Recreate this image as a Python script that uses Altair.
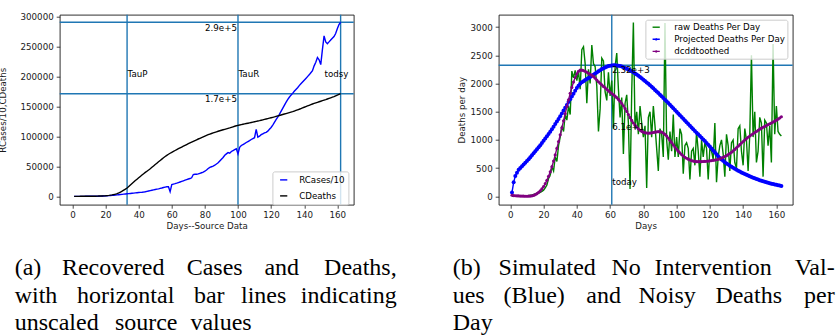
import altair as alt
import pandas as pd

# ---------------- data ----------------
days_a = list(range(1, 163))
recovered_div10 = [
    0, 0, 0, 0, 0, 0, 0, 100, 100, 100,
    100, 100, 200, 200, 300, 300, 400, 500, 600, 800,
    1000, 1200, 1400, 1600, 1900, 2200, 2500, 2800, 3100, 3400,
    3700, 4000, 4300, 4600, 4900, 5200, 5500, 5800, 6100, 6400,
    6600, 6900, 7300, 7800, 8400, 9000, 9600, 10200, 10800, 11400,
    12000, 12600, 13300, 14000, 14800, 15500, 16000, 16200, 8000, 19800,
    20500, 21200, 22000, 23000, 24000, 25000, 26000, 27000, 28000, 29000,
    29800, 31000, 36500, 37000, 37000, 37500, 38500, 39500, 40500, 42000,
    44000, 46500, 48500, 49500, 50500, 52000, 54000, 56000, 59000, 62000,
    65000, 68500, 71000, 73000, 72000, 75000, 76500, 78000, 79500, 71000,
    82000, 85000, 86500, 88000, 90000, 91500, 93000, 95000, 96500, 98000,
    112000, 99000, 100500, 103000, 104500, 106000, 107000, 109000, 112000, 115000,
    119000, 123500, 128000, 132500, 137000, 142000, 147000, 152000, 157000, 161500,
    165500, 169000, 172000, 175500, 178500, 181500, 185000, 188000, 191000, 194000,
    197000, 200000, 203000, 206500, 210000, 218000, 224000, 232000, 228000, 220000,
    245000, 268000, 258000, 255000, 258000, 261000, 264000, 267000, 272000, 280000,
    287000, 290800,
]
cum_deaths = [
    0, 0, 0, 0, 100, 100, 100, 100, 100, 200,
    200, 200, 300, 300, 400, 500, 600, 700, 800, 1000,
    1300, 1600, 2000, 2500, 3100, 3800, 4700, 5800, 7100, 8600,
    10300, 12000, 14000, 16500, 19000, 21500, 24000, 26400, 28700, 31000,
    33300, 35600, 37900, 40000, 42000, 44000, 46200, 48500, 50800, 53100,
    55400, 57700, 60000, 62200, 64400, 66500, 68500, 70300, 72000, 73600,
    75100, 76600, 78100, 79600, 81000, 82400, 83800, 85200, 86600, 88000,
    89300, 90600, 91900, 93200, 94500, 95800, 97000, 98200, 99400, 100600,
    101800, 103000, 104000, 105000, 106000, 106900, 107800, 108700, 109600, 110400,
    111200, 112000, 112800, 113600, 114400, 115300, 116200, 117100, 117900, 118600,
    119200, 119800, 120400, 121000, 121600, 122200, 122800, 123400, 124000, 124600,
    125200, 125800, 126400, 127100, 127800, 128500, 129200, 129900, 130600, 131300,
    132000, 132700, 133500, 134300, 135100, 135900, 136700, 137500, 138300, 139100,
    139900, 140700, 141500, 142500, 143500, 144500, 145500, 146600, 147700, 148800,
    149900, 151000, 152100, 153200, 154300, 155300, 156200, 157100, 158000, 158900,
    159800, 160700, 161600, 162600, 163600, 164600, 165600, 166700, 167900, 169100,
    170300, 171500,
]

days_b = list(range(1, 164))
raw_deaths_per_day = [
    0, 0, 2, 3, 5, 4, 6, 8, 10, 12,
    15, 20, 25, 35, 45, 55, 60, 70, 90, 110,
    150, 200, 320, 380, 520, 450, 700, 620, 900, 1050,
    1250, 1150, 1450, 1350, 1600, 1450, 2220, 2100, 2230, 2050,
    2220, 1900, 2600, 2650, 2350, 1650, 2250, 2000, 2680, 2350,
    2300, 1950, 1150, 1550, 2450, 2400, 1850, 1700, 2200, 1780,
    2050, 1200, 2300, 2540, 1900, 1400, 1750, 750, 1650, 1800,
    1300, 130, 1850, 3080, 1200, 1500, 1100, 1600, 1300, 1050,
    1250, 150, 1400, 1500, 1050, 1600, 1250, 850, 450, 1200,
    1100, 700, 3070, 1000, 650, 1150, 800, 1450, 700, 1050,
    700, 1200, 1100, 400, 900, 950, 850, 300, 800, 850,
    550, 1150, 800, 350, 1000, 700, 950, 850, 300, 850,
    800, 650, 1300, 250, 700, 900, 1000, 750, 350, 1100,
    900, 450, 950, 1000, 600, 500, 1200, 1250, 800, 550,
    1200, 1000, 450, 1100, 2500, 1050, 1500, 600, 800, 1400,
    1300, 350, 1350, 1300, 900, 1250, 600, 2700, 1100, 1600,
    1150, 1100, 1070,
]
projected_deaths_per_day = [
    70, 250, 360, 420, 470, 505, 535, 565, 595, 625,
    660, 695, 730, 765, 800, 835, 870, 905, 945, 985,
    1025, 1065, 1105, 1145, 1190, 1235, 1280, 1325, 1370, 1420,
    1470, 1520, 1570, 1620, 1670, 1720, 1770, 1820, 1870, 1920,
    1960, 1995, 2020, 2040, 2060, 2080, 2095, 2115, 2135, 2155,
    2175, 2195, 2215, 2235, 2255, 2270, 2285, 2298, 2308, 2315,
    2320, 2322, 2322, 2320, 2316, 2310, 2300, 2288, 2275, 2262,
    2248, 2232, 2215, 2197, 2178, 2158, 2137, 2115, 2092, 2068,
    2044, 2019, 1994, 1968, 1941, 1914, 1886, 1858, 1830, 1801,
    1772, 1743, 1713, 1683, 1653, 1623, 1592, 1561, 1530, 1499,
    1468, 1437, 1406, 1375, 1344, 1313, 1282, 1251, 1220, 1189,
    1159, 1129, 1099, 1069, 1039, 1009, 979, 945, 915, 885,
    850, 815, 780, 745, 712, 682, 655, 630, 606, 584,
    563, 543, 524, 506, 489, 472, 456, 440, 425, 410,
    396, 382, 369, 356, 344, 332, 320, 309, 298, 288,
    278, 268, 259, 250, 242, 234, 226, 219, 212, 205,
    198, 191, 185,
]
dcdd_toothed = [
    20, 15, 12, 10, 8, 6, 5, 4, 3, 3,
    4, 6, 10, 18, 30, 48, 72, 100, 135, 175,
    225, 285, 355, 435, 525, 625, 735, 850, 970, 1090,
    1215, 1340, 1465, 1590, 1710, 1825, 1930, 2025, 2105, 2170,
    2215, 2235, 2235, 2228, 2215, 2198, 2180, 2162, 2144, 2125,
    2094, 2062, 2030, 2003, 1975, 1948, 1922, 1896, 1870, 1846,
    1822, 1800, 1775, 1748, 1718, 1684, 1646, 1604, 1555, 1505,
    1450, 1395, 1345, 1300, 1262, 1228, 1198, 1172, 1152, 1138,
    1128, 1122, 1120, 1121, 1125, 1131, 1138, 1143, 1146, 1145,
    1138, 1122, 1098, 1068, 1032, 993, 953, 912, 873, 836,
    801, 770, 741, 716, 694, 676, 660, 646, 634, 625,
    619, 616, 615, 615, 616, 618, 620, 623, 626, 630,
    634, 638, 643, 649, 656, 665, 680, 692, 706, 722,
    740, 760, 782, 806, 832, 860, 888, 916, 944, 972,
    998, 1024, 1048, 1070, 1090, 1110, 1130, 1150, 1170, 1190,
    1208, 1225, 1240, 1255, 1270, 1285, 1300, 1316, 1332, 1350,
    1368, 1388, 1410,
]

series_a = ["RCases/10", "CDeaths"]
colors_a = ["#0000ff", "#000000"]
series_b = ["raw Deaths Per Day", "Projected Deaths Per Day", "dcddtoothed"]
colors_b = ["#008000", "#0000ff", "#800080"]

a_marker_days = [33, 100, 162]
a_bar_values = [290800, 171500]
a_bar_labels = ["2.9e+5", "1.7e+5"]
a_bar_label_days = [100, 100]
a_marker_labels = ["TauP", "TauR", "todsy"]
a_marker_label_days = [33, 100, 152]
a_marker_label_levels = [200000, 200000, 200000]

b_today = [61]
b_peak = [2322]
b_top_label = ["2.32e+3"]
b_other_labels = ["6.1e+1", "today"]
b_other_label_levels = [1170, 200]

x_ticks = [0, 20, 40, 60, 80, 100, 120, 140, 160]
ya_ticks = [0, 50000, 100000, 150000, 200000, 250000, 300000]
yb_ticks = [0, 500, 1000, 1500, 2000, 2500, 3000]

caption_a = [["(a)", "Recovered", "Cases", "and", "Deaths,"],
             ["with", "horizontal", "bar", "lines", "indicating"],
             ["unscaled", "source", "values"]]
caption_b = [["(b)", "Simulated", "No", "Intervention", "Val-"],
             ["ues", "(Blue)", "and", "Noisy", "Deaths", "per"],
             ["Day"]]

# ---------------- layout / style ----------------
FONT = "DejaVu Sans"
FS = 8.7
INK = "#1a1a1a"
REF = "#1f77b4"
W, H = 294, 190
LW = 1.4
PAD_LEFT = -2.3
PAD_TOP = 11.7
SPACING = 101
CAP_OX, CAP_OY = 60.0, 231.0          # captions group origin (page pixels)
CAP_W, CAP_H = 770, 98
CAP_FS = 24
cap_a_x = [[15, 113.5, 215, 282, 397], [15, 126, 209.5, 264, 397], [15, 146.5, 252]]
cap_b_x = [[453, 547.5, 626.5, 713.5, 835], [453, 534.5, 604, 667.5, 749, 835], [453]]
cap_baselines = [273.3, 301.7, 328.3]

# ---------------- panel (a) ----------------
xa_scale = alt.Scale(domain=[-7.7, 169.9], nice=False, zero=False)
ya_scale = alt.Scale(domain=[-13900, 303400], nice=False, zero=False)
xa_axis = alt.Axis(values=x_ticks, format="d", title="Days--Source Data",
                   labelFlush=False, labelOverlap=False, labelPadding=2, titlePadding=3)
ya_axis = alt.Axis(values=ya_ticks, format="d", title="RCases/10,CDeaths",
                   labelPadding=3, labelOverlap=False, titleAngle=270, titleX=-54.5, titleY=95,
                   titleBaseline="alphabetic", titleAlign="center")
X_a = alt.X("day:Q", scale=xa_scale, axis=xa_axis)
Y_a = alt.Y("value:Q", scale=ya_scale, axis=ya_axis)

legend_a = alt.Legend(title=None, orient="none", legendX=212.7, legendY=156.7, padding=3,
                      symbolType="M-0.8,0H0.8", symbolSize=81, symbolStrokeWidth=LW,
                      symbolOffset=2.8, labelOffset=10, rowPadding=5,
                      labelFont=FONT, labelFontSize=FS, labelColor="black",
                      fillColor="rgba(255,255,255,0.8)", strokeColor="#cccccc", cornerRadius=2)
color_a = alt.Color("series:N", scale=alt.Scale(domain=series_a, range=colors_a), legend=legend_a)

df_a = pd.DataFrame({
    "day": days_a + days_a,
    "value": recovered_div10 + cum_deaths,
    "series": [series_a[0]] * len(days_a) + [series_a[1]] * len(days_a),
})

vl_a = alt.Chart(pd.DataFrame({"day": a_marker_days})).mark_rule(color=REF, strokeWidth=LW).encode(x=X_a)
hl_a = alt.Chart(pd.DataFrame({"value": a_bar_values})).mark_rule(color=REF, strokeWidth=LW).encode(y=Y_a)
lines_a = [
    alt.Chart(df_a).transform_filter(alt.datum.series == s)
    .mark_line(strokeWidth=LW).encode(x=X_a, y=Y_a, color=color_a)
    for s in series_a
]
txt_bar_a = alt.Chart(pd.DataFrame({"day": a_bar_label_days, "value": a_bar_values, "label": a_bar_labels})) \
    .mark_text(align="right", baseline="top", dy=1.5, dx=-1, font=FONT, fontSize=FS, color="black") \
    .encode(x=X_a, y=Y_a, text="label:N")
txt_mark_a = alt.Chart(pd.DataFrame({"day": a_marker_label_days, "value": a_marker_label_levels,
                                     "label": a_marker_labels})) \
    .mark_text(align="left", baseline="alphabetic", dx=0.5, font=FONT, fontSize=FS, color="black") \
    .encode(x=X_a, y=Y_a, text="label:N")
panel_a = alt.layer(vl_a, hl_a, *lines_a, txt_bar_a, txt_mark_a).properties(width=W, height=H)

# ---------------- panel (b) ----------------
xb_scale = alt.Scale(domain=[-7.0, 169.8], nice=False, zero=False)
yb_scale = alt.Scale(domain=[-147, 3218], nice=False, zero=False)
xb_axis = alt.Axis(values=x_ticks, format="d", title="Days",
                   labelFlush=False, labelOverlap=False, labelPadding=2, titlePadding=3)
yb_axis = alt.Axis(values=yb_ticks, format="d", title="Deaths per day",
                   labelPadding=3, labelOverlap=False, titleAngle=270, titleX=-37.3, titleY=95,
                   titleBaseline="middle", titleAlign="center")
X_b = alt.X("day:Q", scale=xb_scale, axis=xb_axis)
Y_b = alt.Y("value:Q", scale=yb_scale, axis=yb_axis)

SHAPE_LINE = "M-0.8,0H0.8"
SHAPE_LINE_DOT = "M-0.8,0H0.8M-0.12,0A0.12,0.12,0,1,1,0.12,0A0.12,0.12,0,1,1,-0.12,0Z"
legend_b = alt.Legend(title=None, orient="none", legendX=146.7, legendY=5, padding=2,
                      symbolType=SHAPE_LINE, symbolSize=81, symbolStrokeWidth=LW,
                      symbolOffset=3.3, labelOffset=12.5, rowPadding=1.1, symbolOpacity=1,
                      labelFont=FONT, labelFontSize=FS, labelColor="black",
                      fillColor="rgba(255,255,255,0.8)", strokeColor="#cccccc", cornerRadius=2)
color_b = alt.Color("series:N", scale=alt.Scale(domain=series_b, range=colors_b), legend=legend_b)
shape_b = alt.Shape("series:N", scale=alt.Scale(domain=series_b,
                                                range=[SHAPE_LINE, SHAPE_LINE_DOT, SHAPE_LINE_DOT]),
                    legend=legend_b)

df_b = pd.DataFrame({
    "day": days_b * 3,
    "value": raw_deaths_per_day + projected_deaths_per_day + dcdd_toothed,
    "series": [series_b[0]] * len(days_b) + [series_b[1]] * len(days_b) + [series_b[2]] * len(days_b),
})

vl_b = alt.Chart(pd.DataFrame({"day": b_today})).mark_rule(color=REF, strokeWidth=LW).encode(x=X_b)
hl_b = alt.Chart(pd.DataFrame({"value": b_peak})).mark_rule(color=REF, strokeWidth=LW).encode(y=Y_b)


def series_line(s):
    return alt.Chart(df_b).transform_filter(alt.datum.series == s) \
        .mark_line(strokeWidth=LW).encode(x=X_b, y=Y_b, color=color_b)


def series_dots(s, size):
    return alt.Chart(df_b).transform_filter(alt.datum.series == s) \
        .mark_circle(size=size, opacity=1).encode(x=X_b, y=Y_b, color=color_b)


# invisible helper: first sample of each series, only to give the legend its per-entry symbol
legend_helper_b = alt.Chart(df_b).transform_filter(alt.datum.day == days_b[0]) \
    .mark_point(opacity=0, filled=False).encode(x=X_b, y=Y_b, color=color_b, shape=shape_b)

txt_top_b = alt.Chart(pd.DataFrame({"day": b_today, "value": b_peak, "label": b_top_label})) \
    .mark_text(align="left", baseline="top", dx=0.5, dy=0.5, font=FONT, fontSize=FS, color="black") \
    .encode(x=X_b, y=Y_b, text="label:N")
txt_oth_b = alt.Chart(pd.DataFrame({"day": b_today * 2, "value": b_other_label_levels,
                                    "label": b_other_labels})) \
    .mark_text(align="left", baseline="alphabetic", dx=0.5, font=FONT, fontSize=FS, color="black") \
    .encode(x=X_b, y=Y_b, text="label:N")

panel_b = alt.layer(
    vl_b, hl_b,
    series_line(series_b[0]),
    series_line(series_b[1]), series_dots(series_b[1], 16),
    series_line(series_b[2]), series_dots(series_b[2], 10),
    legend_helper_b,
    txt_top_b, txt_oth_b,
).properties(width=W, height=H)

row = alt.hconcat(panel_a, panel_b, spacing=SPACING).resolve_scale(
    color="independent", shape="independent", x="independent", y="independent")

# ---------------- captions ----------------
cap_rows = []
for lines, xs in ((caption_a, cap_a_x), (caption_b, cap_b_x)):
    for li, (words, xpos) in enumerate(zip(lines, xs)):
        n = len(words)
        for i, (w, x) in enumerate(zip(words, xpos)):
            if i == 0:
                al = "left"
            elif i == n - 1:
                al = "right"
            else:
                al = "center"
            cap_rows.append({"word": w, "px": x - CAP_OX, "py": cap_baselines[li] - CAP_OY, "al": al})
cap_df = pd.DataFrame(cap_rows)
cap_layers = [
    alt.Chart(cap_df).transform_filter(alt.datum.al == a)
    .mark_text(align=a, baseline="alphabetic", font="Liberation Serif", fontSize=CAP_FS, color="black")
    .encode(x=alt.X("px:Q", scale=None, axis=None), y=alt.Y("py:Q", scale=None, axis=None), text="word:N")
    for a in ("left", "center", "right")
]
captions = alt.layer(*cap_layers).properties(width=CAP_W, height=CAP_H,
                                             view=alt.ViewBackground(stroke="transparent"))

chart = alt.vconcat(row, captions, spacing=0).properties(
    padding={"left": PAD_LEFT, "top": PAD_TOP, "right": 0, "bottom": 0},
    background="white",
).configure_view(stroke=INK, strokeWidth=0.9).configure_axis(
    domain=False, grid=False, tickColor=INK, tickWidth=0.8, tickSize=3.5,
    labelFont=FONT, labelFontSize=FS, labelColor=INK,
    titleFont=FONT, titleFontSize=FS, titleFontWeight="normal", titleColor=INK,
)

chart.save("out.html", embed_options={"renderer": "svg", "actions": False})
